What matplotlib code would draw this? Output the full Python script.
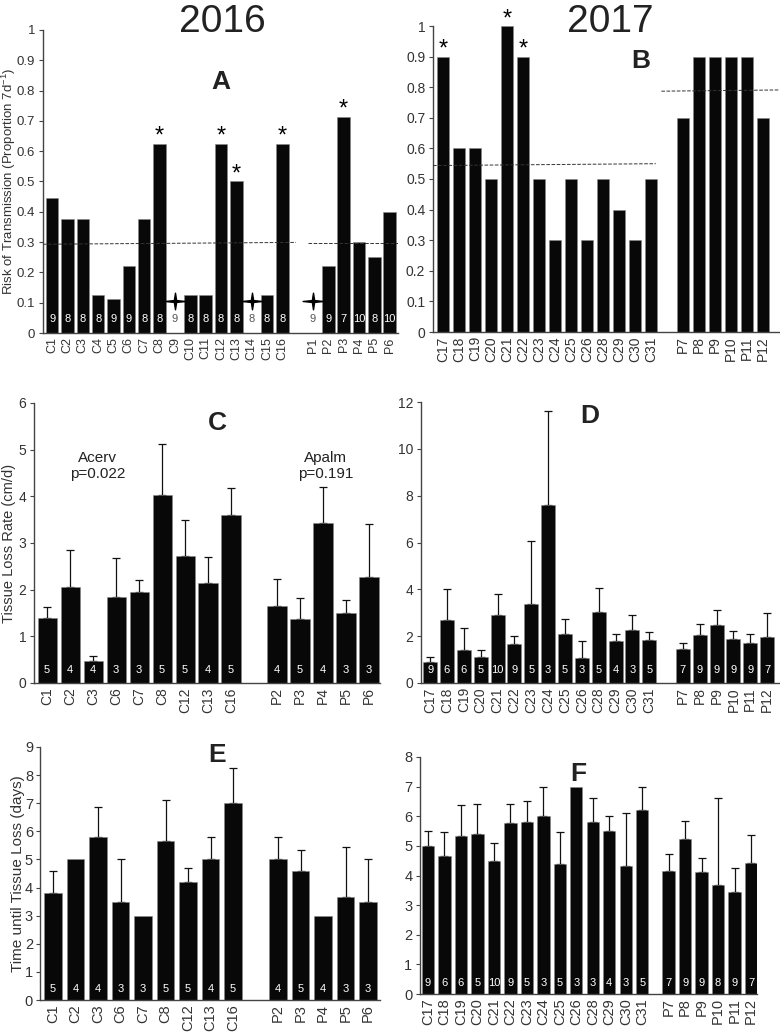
import numpy as np
import matplotlib.pyplot as plt
from matplotlib.path import Path

plt.rcParams['font.family'] = ['Liberation Sans', 'DejaVu Sans']
plt.rcParams['mathtext.fontset'] = 'custom'
plt.rcParams['mathtext.rm'] = 'Liberation Sans'

# ---- data ----
c16 = ['C1', 'C2', 'C3', 'C4', 'C5', 'C6', 'C7', 'C8', 'C9', 'C10', 'C11', 'C12', 'C13', 'C14', 'C15', 'C16']
p16 = ['P1', 'P2', 'P3', 'P4', 'P5', 'P6']
riskA_c = [0.444, 0.375, 0.375, 0.125, 0.111, 0.222, 0.375, 0.625, 0, 0.125, 0.125, 0.625, 0.5, 0, 0.125, 0.625]
riskA_p = [0, 0.222, 0.714, 0.3, 0.25, 0.4]
nA_c = [9, 8, 8, 8, 9, 9, 8, 8, 9, 8, 8, 8, 8, 8, 8, 8]
nA_p = [9, 9, 7, 10, 8, 10]
starA_c = ['C8', 'C12', 'C13', 'C16']
starA_p = ['P3']
noneA = ['C9', 'C14', 'P1']
meanA = [0.296, 0.298]

c17 = ['C17', 'C18', 'C19', 'C20', 'C21', 'C22', 'C23', 'C24', 'C25', 'C26', 'C28', 'C29', 'C30', 'C31']
p17 = ['P7', 'P8', 'P9', 'P10', 'P11', 'P12']
riskB_c = [0.9, 0.6, 0.6, 0.5, 1.0, 0.9, 0.5, 0.3, 0.5, 0.3, 0.5, 0.4, 0.3, 0.5]
riskB_p = [0.7, 0.9, 0.9, 0.9, 0.9, 0.7]
starB_c = ['C17', 'C21', 'C22']
meanB = [0.547, 0.789]

c16b = ['C1', 'C2', 'C3', 'C6', 'C7', 'C8', 'C12', 'C13', 'C16']
p16b = ['P2', 'P3', 'P4', 'P5', 'P6']
rateC_c = [1.4, 2.05, 0.48, 1.85, 1.95, 4.03, 2.73, 2.15, 3.6]
rateC_p = [1.65, 1.37, 3.43, 1.5, 2.27]
seC_c = [0.22, 0.8, 0.09, 0.83, 0.25, 1.1, 0.77, 0.56, 0.57]
seC_p = [0.58, 0.45, 0.77, 0.27, 1.13]
nC_c = [5, 4, 4, 3, 3, 5, 5, 4, 5]
nC_p = [4, 5, 4, 3, 3]

rateD_c = [0.9, 2.68, 1.4, 1.13, 2.9, 1.65, 3.37, 7.6, 2.08, 1.08, 3.03, 1.8, 2.27, 1.83]
rateD_p = [1.45, 2.05, 2.48, 1.9, 1.72, 1.98]
seD_c = [0.2, 1.32, 0.93, 0.27, 0.88, 0.35, 2.71, 4.0, 0.64, 0.7, 1.04, 0.28, 0.63, 0.34]
seD_p = [0.27, 0.47, 0.62, 0.3, 0.36, 1.02]
nD_c = [9, 6, 6, 5, 10, 9, 5, 3, 5, 3, 5, 4, 3, 5]
nD_p = [7, 9, 9, 9, 9, 7]

timeE_c = [3.8, 5.0, 5.8, 3.5, 3.0, 5.67, 4.2, 5.0, 7.0]
timeE_p = [5.0, 4.6, 3.0, 3.67, 3.5]
seE_c = [0.8, 0, 1.07, 1.5, 0, 1.43, 0.5, 0.8, 1.25]
seE_p = [0.8, 0.75, 0, 1.76, 1.5]

timeF_c = [5.0, 4.67, 5.33, 5.4, 4.5, 5.78, 5.8, 6.0, 4.4, 7.0, 5.8, 5.5, 4.33, 6.2]
timeF_p = [4.14, 5.22, 4.11, 3.67, 3.44, 4.43]
seF_c = [0.5, 0.8, 1.05, 1.03, 0.6, 0.62, 0.73, 1.0, 1.07, 0, 0.8, 0.5, 1.77, 0.8]
seF_p = [0.59, 0.61, 0.49, 2.95, 0.81, 0.94]
nF_c = [9, 6, 6, 5, 10, 9, 5, 3, 5, 3, 3, 4, 3, 5]
nF_p = [7, 9, 9, 8, 9, 7]

# 4 point star marker
a = np.linspace(0, 2*np.pi, 9)[:-1] + np.pi/2
r = np.tile([1.0, 0.16], 4)
star = Path(np.c_[r*np.cos(a)*1.25, r*np.sin(a)].tolist() + [[0, 1]], closed=True)

W, H = 780, 1036
fig = plt.figure(figsize=(W/100, H/100), dpi=100)


def make_ax(l, r, b, t):
    ax = fig.add_axes([l/W, 1 - b/H, (r - l)/W, (b - t)/H])
    for s in ['top', 'right']:
        ax.spines[s].set_visible(False)
    for s in ['left', 'bottom']:
        ax.spines[s].set_color('#444444')
        ax.spines[s].set_linewidth(1.0)
    ax.tick_params(axis='x', length=0, pad=3, colors='#333333')
    ax.tick_params(axis='y', length=3, width=0.8, pad=2.5, colors='#444444', labelcolor='#333333', labelsize=10)
    return ax


def bars(ax, labels, xs, vals, width, se=None, n=None, fs=10):
    ax.bar(xs, vals, width=width, color='#080808', edgecolor='#888888', linewidth=0.4, zorder=2)
    if se is not None:
        se = np.array(se, float)
        m = se > 0
        ax.errorbar(np.array(xs)[m], np.array(vals)[m], yerr=[np.zeros(m.sum()), se[m]],
                    fmt='none', ecolor='#111111', elinewidth=0.9, capsize=3, capthick=0.9, zorder=1)
    if n is not None:
        for x, v, k in zip(xs, vals, n):
            ax.text(x, 0.045, str(k), transform=ax.get_xaxis_transform(), ha='center', va='center',
                    fontsize=8, color='white' if v > 0 else '#555555', zorder=3)


def setup_x(ax, xs, labels, fs):
    ax.set_xticks(xs)
    ax.set_xticklabels(labels, rotation=90, fontsize=fs)


# ---- A ----
axA = make_ax(43, 398, 333, 30)
xa_c = np.arange(len(c16))
xa_p = np.arange(len(p16)) + len(c16) + 1
bars(axA, c16, xa_c, riskA_c, 0.82, n=nA_c)
bars(axA, p16, xa_p, riskA_p, 0.82, n=nA_p)
setup_x(axA, np.r_[xa_c, xa_p], c16 + p16, 9)
axA.set_xlim(-0.6, 22.55)
axA.set_ylim(0, 1)
axA.set_yticks(np.arange(0, 1.01, 0.1))
axA.set_yticklabels(['%g' % round(v, 1) for v in np.arange(0, 1.01, 0.1)])
axA.tick_params(axis='y', labelsize=9.5)
axA.plot([-0.6, xa_c[-1] + 0.9], [meanA[0] - 0.003, meanA[0] + 0.003], ls='--', lw=0.7, color='#333333', zorder=3)
axA.plot([xa_p[0] - 0.3, 22.55], [meanA[1], meanA[1]], ls='--', lw=0.7, color='#333333', zorder=3)
lookA = dict(zip(c16 + p16, zip(np.r_[xa_c, xa_p], riskA_c + riskA_p)))
for k in starA_c + starA_p:
    x, v = lookA[k]
    axA.annotate('*', (x, v), xytext=(0, -3), textcoords='offset points', ha='center', va='bottom', fontsize=17)
for k in noneA:
    x, v = lookA[k]
    axA.plot(x, 0.107, marker=star, ms=15, color='black', zorder=3)
axA.set_ylabel('Risk of Transmission (Proportion 7d$^{-1}$)', fontsize=9.5, color='#333333')
axA.yaxis.set_label_coords(-0.071, 0.5)
axA.text(0.5, 0.83, 'A', transform=axA.transAxes, ha='center', va='center', fontsize=19, fontweight='bold', color='#222222')
fig.text(222/W, 1 - 22/H, '2016', ha='center', va='center', fontsize=28, color='#222222')

# ---- B ----
axB = make_ax(433, 779, 332, 26)
xb_c = np.arange(len(c17))
xb_p = np.arange(len(p17)) + len(c17) + 1
bars(axB, c17, xb_c, riskB_c, 0.78)
bars(axB, p17, xb_p, riskB_p, 0.78)
setup_x(axB, np.r_[xb_c, xb_p], c17 + p17, 10)
axB.set_xlim(-0.62, 21)
axB.set_ylim(0, 1)
axB.set_yticks(np.arange(0, 1.01, 0.1))
axB.set_yticklabels(['%g' % round(v, 1) for v in np.arange(0, 1.01, 0.1)])
axB.plot([-0.62, xb_c[-1] + 0.3], [meanB[0] - 0.003, meanB[0] + 0.003], ls='--', lw=0.7, color='#333333', zorder=3, clip_on=False)
axB.plot([xb_c[-1] + 0.65, 21], [meanB[1] - 0.002, meanB[1] + 0.002], ls='--', lw=0.7, color='#333333', zorder=3)
lookB = dict(zip(c17, zip(xb_c, riskB_c)))
for k in starB_c:
    x, v = lookB[k]
    axB.annotate('*', (x, v), xytext=(0, -3), textcoords='offset points', ha='center', va='bottom', fontsize=17,
                 annotation_clip=False)
axB.text(0.6, 0.885, 'B', transform=axB.transAxes, ha='center', va='center', fontsize=19, fontweight='bold', color='#222222')
fig.text(610/W, 1 - 22/H, '2017', ha='center', va='center', fontsize=28, color='#222222')

# ---- C ----
axC = make_ax(34, 380, 683, 403)
xc_c = np.arange(len(c16b))
xc_p = np.arange(len(p16b)) + len(c16b) + 1
bars(axC, c16b, xc_c, rateC_c, 0.83, se=seC_c, n=nC_c)
bars(axC, p16b, xc_p, rateC_p, 0.83, se=seC_p, n=nC_p)
setup_x(axC, np.r_[xc_c, xc_p], c16b + p16b, 10)
axC.set_xlim(-0.57, 14.48)
axC.set_ylim(0, 6)
axC.set_yticks(range(7))
axC.text(2.2, 4.65, 'Acerv\np=0.022', ha='center', va='center', fontsize=11, color='#222222', linespacing=1.1)
axC.text(12.1, 4.65, 'Apalm\np=0.191', ha='center', va='center', fontsize=11, color='#222222', linespacing=1.1)
axC.set_ylabel('Tissue Loss Rate (cm/d)', fontsize=10.5, color='#333333')
axC.yaxis.set_label_coords(-0.052, 0.5)
axC.text(0.53, 0.93, 'C', transform=axC.transAxes, ha='center', va='center', fontsize=19, fontweight='bold', color='#222222')

# ---- D ----
axD = make_ax(421, 779, 683, 402)
xd_c = np.arange(len(c17))
xd_p = np.arange(len(p17)) + len(c17) + 1
bars(axD, c17, xd_c, rateD_c, 0.83, se=seD_c, n=nD_c)
bars(axD, p17, xd_p, rateD_p, 0.83, se=seD_p, n=nD_p)
setup_x(axD, np.r_[xd_c, xd_p], c17 + p17, 10)
axD.set_xlim(-0.54, 20.7)
axD.set_ylim(0, 12)
axD.set_yticks(range(0, 13, 2))
axD.text(0.47, 0.95, 'D', transform=axD.transAxes, ha='center', va='center', fontsize=19, fontweight='bold', color='#222222')

# ---- E ----
axE = make_ax(40, 380, 1000, 747)
xe_c = np.arange(len(c16b))
xe_p = np.arange(len(p16b)) + len(c16b) + 1
bars(axE, c16b, xe_c, timeE_c, 0.79, se=seE_c, n=nC_c)
bars(axE, p16b, xe_p, timeE_p, 0.79, se=seE_p, n=nC_p)
setup_x(axE, np.r_[xe_c, xe_p], c16b + p16b, 10.5)
axE.set_xlim(-0.58, 14.53)
axE.set_ylim(0, 9)
axE.set_yticks(range(10))
axE.tick_params(axis='y', labelsize=10.5, pad=2)
axE.set_ylabel('Time until Tissue Loss (days)', fontsize=11, color='#333333')
axE.yaxis.set_label_coords(-0.045, 0.5)
axE.text(0.52, 0.97, 'E', transform=axE.transAxes, ha='center', va='center', fontsize=19, fontweight='bold', color='#222222')

# ---- F ----
axF = make_ax(420, 757, 994, 757)
xf_c = np.arange(len(c17))
xf_p = np.arange(len(p17)) + len(c17) + 0.6
bars(axF, c17, xf_c, timeF_c, 0.75, se=seF_c, n=nF_c)
bars(axF, p17, xf_p, timeF_p, 0.75, se=seF_p, n=nF_p)
setup_x(axF, np.r_[xf_c, xf_p], c17 + p17, 10.5)
axF.set_xlim(-0.48, 19.96)
axF.set_ylim(0, 8)
axF.set_yticks(range(9))
axF.tick_params(axis='y', labelsize=10.5)
axF.text(0.47, 0.93, 'F', transform=axF.transAxes, ha='center', va='center', fontsize=19, fontweight='bold', color='#222222')

fig.savefig('out.png', dpi=100)
